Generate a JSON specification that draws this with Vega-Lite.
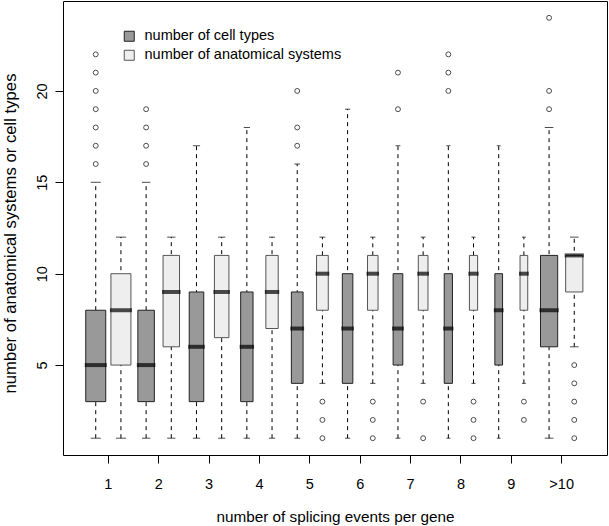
{
  "$schema": "https://vega.github.io/schema/vega-lite/v6.json",
  "width": 544,
  "height": 454,
  "autosize": {"type": "none"},
  "padding": {"left": 63, "top": 1, "right": 2, "bottom": 71},
  "background": "white",
  "config": {
    "view": {"stroke": "black", "strokeWidth": 1},
    "font": "Liberation Sans",
    "axis": {"grid": false, "domain": false, "tickColor": "black", "tickWidth": 1, "labelColor": "black", "titleColor": "black", "labelFont": "Liberation Sans", "titleFont": "Liberation Sans", "titleFontWeight": "normal"}
  },
  "datasets": {
    "boxes": [
      {"group": "1", "series": "number of cell types", "n": 3000, "lo": 1, "q1": 3, "med": 5, "q3": 8, "hi": 15},
      {"group": "1", "series": "number of anatomical systems", "n": 3000, "lo": 1, "q1": 5, "med": 8, "q3": 10, "hi": 12},
      {"group": "2", "series": "number of cell types", "n": 2040, "lo": 1, "q1": 3, "med": 5, "q3": 8, "hi": 15},
      {"group": "2", "series": "number of anatomical systems", "n": 2040, "lo": 1, "q1": 6, "med": 9, "q3": 11, "hi": 12},
      {"group": "3", "series": "number of cell types", "n": 1580, "lo": 1, "q1": 3, "med": 6, "q3": 9, "hi": 17},
      {"group": "3", "series": "number of anatomical systems", "n": 1580, "lo": 1, "q1": 6.5, "med": 9, "q3": 11, "hi": 12},
      {"group": "4", "series": "number of cell types", "n": 1150, "lo": 1, "q1": 3, "med": 6, "q3": 9, "hi": 18},
      {"group": "4", "series": "number of anatomical systems", "n": 1150, "lo": 1, "q1": 7, "med": 9, "q3": 11, "hi": 12},
      {"group": "5", "series": "number of cell types", "n": 1030, "lo": 1, "q1": 4, "med": 7, "q3": 9, "hi": 16},
      {"group": "5", "series": "number of anatomical systems", "n": 1030, "lo": 4, "q1": 8, "med": 10, "q3": 11, "hi": 12},
      {"group": "6", "series": "number of cell types", "n": 830, "lo": 1, "q1": 4, "med": 7, "q3": 10, "hi": 19},
      {"group": "6", "series": "number of anatomical systems", "n": 830, "lo": 4, "q1": 8, "med": 10, "q3": 11, "hi": 12},
      {"group": "7", "series": "number of cell types", "n": 705, "lo": 1, "q1": 5, "med": 7, "q3": 10, "hi": 17},
      {"group": "7", "series": "number of anatomical systems", "n": 705, "lo": 4, "q1": 8, "med": 10, "q3": 11, "hi": 12},
      {"group": "8", "series": "number of cell types", "n": 505, "lo": 1, "q1": 4, "med": 7, "q3": 10, "hi": 17},
      {"group": "8", "series": "number of anatomical systems", "n": 505, "lo": 4, "q1": 8, "med": 10, "q3": 11, "hi": 12},
      {"group": "9", "series": "number of cell types", "n": 445, "lo": 1, "q1": 5, "med": 8, "q3": 10, "hi": 17},
      {"group": "9", "series": "number of anatomical systems", "n": 445, "lo": 4, "q1": 8, "med": 10, "q3": 11, "hi": 12},
      {"group": ">10", "series": "number of cell types", "n": 2220, "lo": 1, "q1": 6, "med": 8, "q3": 11, "hi": 18},
      {"group": ">10", "series": "number of anatomical systems", "n": 2220, "lo": 6, "q1": 9, "med": 11, "q3": 11, "hi": 12}
    ],
    "outliers": [
      {"group": "1", "series": "number of cell types", "value": 16},
      {"group": "1", "series": "number of cell types", "value": 17},
      {"group": "1", "series": "number of cell types", "value": 18},
      {"group": "1", "series": "number of cell types", "value": 19},
      {"group": "1", "series": "number of cell types", "value": 20},
      {"group": "1", "series": "number of cell types", "value": 21},
      {"group": "1", "series": "number of cell types", "value": 22},
      {"group": "2", "series": "number of cell types", "value": 16},
      {"group": "2", "series": "number of cell types", "value": 17},
      {"group": "2", "series": "number of cell types", "value": 18},
      {"group": "2", "series": "number of cell types", "value": 19},
      {"group": "5", "series": "number of cell types", "value": 17},
      {"group": "5", "series": "number of cell types", "value": 18},
      {"group": "5", "series": "number of cell types", "value": 20},
      {"group": "5", "series": "number of anatomical systems", "value": 1},
      {"group": "5", "series": "number of anatomical systems", "value": 2},
      {"group": "5", "series": "number of anatomical systems", "value": 3},
      {"group": "6", "series": "number of anatomical systems", "value": 1},
      {"group": "6", "series": "number of anatomical systems", "value": 2},
      {"group": "6", "series": "number of anatomical systems", "value": 3},
      {"group": "7", "series": "number of cell types", "value": 19},
      {"group": "7", "series": "number of cell types", "value": 21},
      {"group": "7", "series": "number of anatomical systems", "value": 1},
      {"group": "7", "series": "number of anatomical systems", "value": 3},
      {"group": "8", "series": "number of cell types", "value": 20},
      {"group": "8", "series": "number of cell types", "value": 21},
      {"group": "8", "series": "number of cell types", "value": 22},
      {"group": "8", "series": "number of anatomical systems", "value": 1},
      {"group": "8", "series": "number of anatomical systems", "value": 2},
      {"group": "8", "series": "number of anatomical systems", "value": 3},
      {"group": "9", "series": "number of anatomical systems", "value": 2},
      {"group": "9", "series": "number of anatomical systems", "value": 3},
      {"group": ">10", "series": "number of cell types", "value": 19},
      {"group": ">10", "series": "number of cell types", "value": 20},
      {"group": ">10", "series": "number of cell types", "value": 24},
      {"group": ">10", "series": "number of anatomical systems", "value": 1},
      {"group": ">10", "series": "number of anatomical systems", "value": 2},
      {"group": ">10", "series": "number of anatomical systems", "value": 3},
      {"group": ">10", "series": "number of anatomical systems", "value": 4},
      {"group": ">10", "series": "number of anatomical systems", "value": 5}
    ]
  },
  "encoding": {
    "x": {
      "field": "group", "type": "nominal", "sort": null,
      "scale": {"type": "band", "domain": ["1","2","3","4","5","6","7","8","9",">10"], "paddingInner": 0, "paddingOuter": 0.4},
      "axis": {"title": "number of splicing events per gene", "labelAngle": 0, "tickSize": 8, "labelFontSize": 14.5, "labelPadding": 14, "titleFontSize": 15.3, "titlePadding": 19}
    },
    "xOffset": {
      "field": "series", "type": "nominal",
      "scale": {"domain": ["number of cell types", "number of anatomical systems"], "paddingInner": 0, "paddingOuter": 0}
    }
  },
  "layer": [
    {
      "data": {"name": "boxes"},
      "mark": {"type": "rule", "color": "black", "strokeWidth": 1, "strokeDash": [4, 4]},
      "encoding": {
        "y": {
          "field": "lo", "type": "quantitative",
          "scale": {"domain": [0.08, 24.92], "nice": false, "zero": false},
          "axis": {"title": "number of anatomical systems or cell types", "values": [5, 10, 15, 20], "labelAngle": 270, "tickSize": 8, "labelFontSize": 14.5, "labelPadding": 6, "titleFontSize": 16.7, "titlePadding": 15, "titleY": 232}
        },
        "y2": {"field": "hi"}
      }
    },
    {
      "data": {"name": "boxes"},
      "mark": {"type": "tick", "color": "black", "thickness": 1, "orient": "horizontal"},
      "encoding": {
        "y": {"field": "lo", "type": "quantitative"},
        "size": {"field": "n", "type": "quantitative", "scale": {"type": "sqrt", "domain": [0, 3000], "range": [0, 10]}, "legend": null}
      }
    },
    {
      "data": {"name": "boxes"},
      "mark": {"type": "tick", "color": "black", "thickness": 1, "orient": "horizontal"},
      "encoding": {
        "y": {"field": "hi", "type": "quantitative"},
        "size": {"field": "n", "type": "quantitative", "scale": {"type": "sqrt", "domain": [0, 3000], "range": [0, 10]}, "legend": null}
      }
    },
    {
      "data": {"name": "boxes"},
      "mark": {"type": "bar", "strokeWidth": 1},
      "encoding": {
        "y": {"field": "q1", "type": "quantitative"},
        "y2": {"field": "q3"},
        "size": {"field": "n", "type": "quantitative", "scale": {"type": "sqrt", "domain": [0, 3000], "range": [0, 20]}, "legend": null},
        "fill": {
          "field": "series", "type": "nominal",
          "scale": {"domain": ["number of cell types", "number of anatomical systems"], "range": ["#999999", "#EEEEEE"]},
          "legend": {"title": null, "orient": "none", "legendX": 59, "legendY": 28, "padding": 0, "symbolType": "square", "symbolSize": 100, "symbolStrokeColor": "#333333", "symbolStrokeWidth": 1, "labelFontSize": 14.5, "labelFont": "Liberation Sans", "labelColor": "black", "labelOffset": 8, "rowPadding": 3, "labelLimit": 400}
        },
        "stroke": {
          "field": "series", "type": "nominal",
          "scale": {"domain": ["number of cell types", "number of anatomical systems"], "range": ["#222222", "#555555"]},
          "legend": null
        }
      }
    },
    {
      "data": {"name": "boxes"},
      "mark": {"type": "tick", "color": "black", "fill": "black", "stroke": "black", "thickness": 2, "strokeWidth": 2, "orient": "horizontal"},
      "encoding": {
        "y": {"field": "med", "type": "quantitative"},
        "size": {"field": "n", "type": "quantitative", "scale": {"type": "sqrt", "domain": [0, 3000], "range": [0, 20]}, "legend": null}
      }
    },
    {
      "data": {"name": "outliers"},
      "mark": {"type": "point", "shape": "circle", "filled": false, "stroke": "black", "strokeWidth": 1, "size": 24},
      "encoding": {
        "y": {"field": "value", "type": "quantitative"}
      }
    }
  ],
  "resolve": {"scale": {"size": "independent"}}
}
